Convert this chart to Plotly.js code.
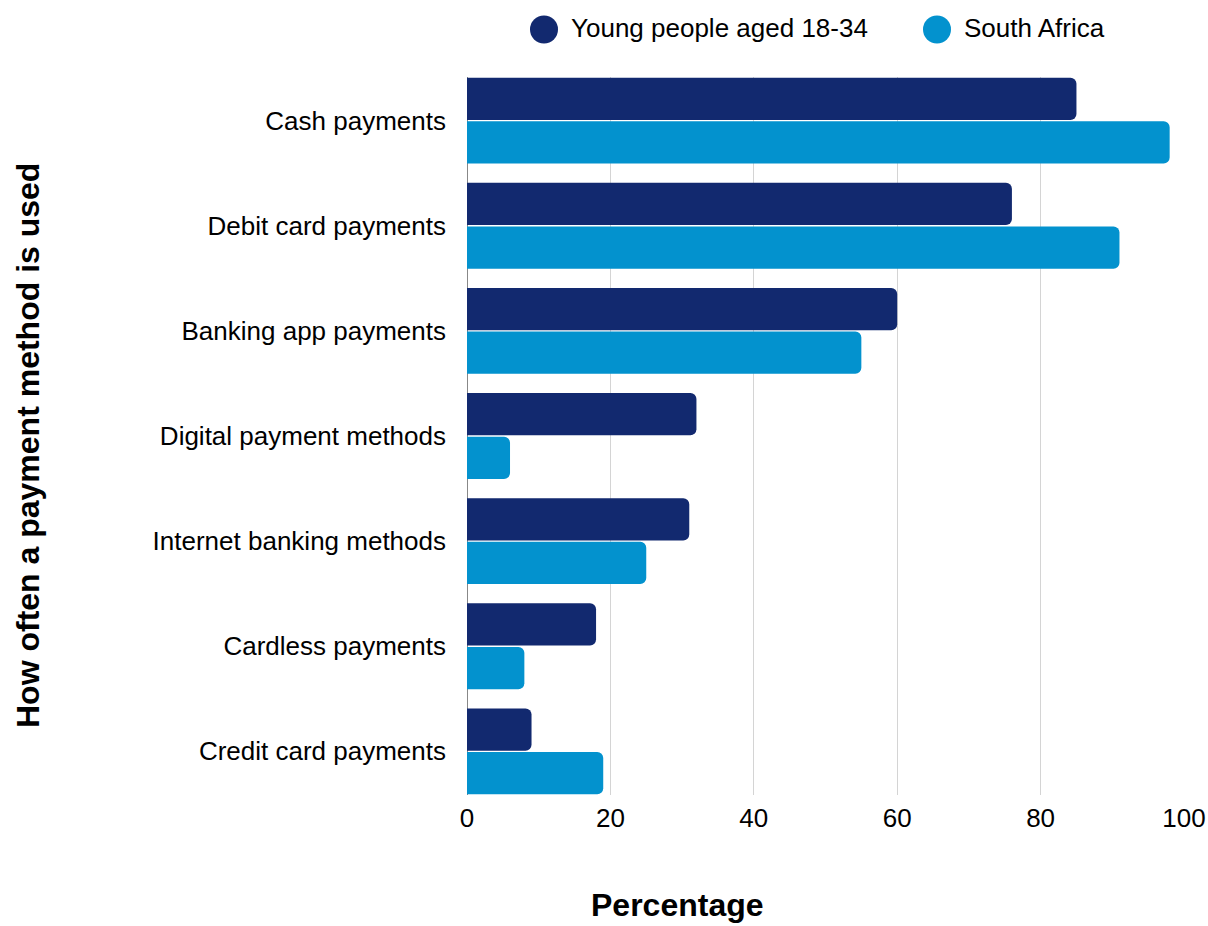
<!DOCTYPE html>
<html>
<head>
<meta charset="utf-8">
<script src="https://cdn.plot.ly/plotly-3.0.1.min.js"></script>
<style>html,body{margin:0;padding:0;background:#fff;}#chart{width:1208px;height:926px;}</style>
</head>
<body>
<div id="chart"></div>
<script>
const categories = ["Cash payments","Debit card payments","Banking app payments","Digital payment methods","Internet banking methods","Cardless payments","Credit card payments"];
const youngValues = [85, 76, 60, 32, 31, 18, 9];
const southAfricaValues = [98, 91, 55, 6, 25, 8, 19];
const seriesNames = ["Young people aged 18-34", "South Africa"];
const colors = ["#12296F", "#0392CE"];
const xTicks = [0, 20, 40, 60, 80, 100];
const xTitle = "Percentage";
const yTitle = "How often a payment method is used";

const font = "Liberation Sans, Arial, sans-serif";

// plot area geometry (pixels)
const L = 467, R = 24, T = 77, B = 131, W = 1208, H = 926;
const pw = W - L - R, ph = H - T - B;
const px = (x) => (x - L) / pw;
const py = (y) => (H - B - y) / ph;

const bars = [youngValues, southAfricaValues].map((vals, i) => ({
  type: "bar",
  orientation: "h",
  y: categories,
  x: vals,
  name: seriesNames[i],
  marker: {color: colors[i], cornerradius: 6, line: {width: 0}},
  showlegend: false,
  hoverinfo: "x+y"
}));

// custom legend (large circle swatches)
const legendCircleX = [544, 937];
const legendY = 29.5;
const shapes = seriesNames.map((n, i) => ({
  type: "circle",
  xref: "paper", yref: "paper",
  xsizemode: "pixel", ysizemode: "pixel",
  xanchor: px(legendCircleX[i]), yanchor: py(legendY),
  x0: -14, x1: 14, y0: -14, y1: 14,
  fillcolor: colors[i], line: {width: 0}
}));
const legendTexts = seriesNames.map((n, i) => ({
  text: n,
  xref: "paper", yref: "paper",
  x: px(legendCircleX[i] + 25), y: py(legendY - 1),
  xanchor: "left", yanchor: "middle",
  showarrow: false,
  font: {size: 26, family: font, color: "#000"}
}));

const layout = {
  width: W, height: H,
  margin: {l: L, r: R, t: T, b: B, autoexpand: false},
  paper_bgcolor: "#fff", plot_bgcolor: "#fff",
  font: {family: font, color: "#000", size: 26},
  barmode: "group",
  bargap: 0.17,
  bargroupgap: 0.03,
  showlegend: false,
  xaxis: {
    range: [0, 100],
    tickvals: xTicks,
    ticktext: xTicks.map(String),
    showgrid: true, gridcolor: "#d4d4d4", gridwidth: 1,
    zeroline: true, zerolinecolor: "#888", zerolinewidth: 1,
    showline: false,
    ticks: "", ticklen: 0,
    tickfont: {size: 26, family: font, color: "#000"},
    ticklabelstandoff: 5,
    fixedrange: true
  },
  yaxis: {
    type: "category",
    categoryorder: "array", categoryarray: categories,
    range: [6.415, -0.415],
    showgrid: false, zeroline: false, showline: false,
    ticks: "", ticklen: 0,
    tickfont: {size: 26, family: font, color: "#000"},
    ticklabelstandoff: 20,
    fixedrange: true
  },
  shapes: shapes,
  annotations: [
    ...legendTexts,
    {
      text: "<b>" + xTitle + "</b>",
      xref: "paper", yref: "paper",
      x: px(677), y: py(905),
      xanchor: "center", yanchor: "middle",
      showarrow: false,
      font: {size: 32, family: font, color: "#000"}
    },
    {
      text: "<b>" + yTitle + "</b>",
      xref: "paper", yref: "paper",
      x: px(28), y: py(446),
      xanchor: "center", yanchor: "middle",
      textangle: -90,
      showarrow: false,
      font: {size: 32, family: font, color: "#000"}
    }
  ]
};

Plotly.newPlot("chart", bars, layout, {displayModeBar: false, staticPlot: true});
</script>
</body>
</html>
